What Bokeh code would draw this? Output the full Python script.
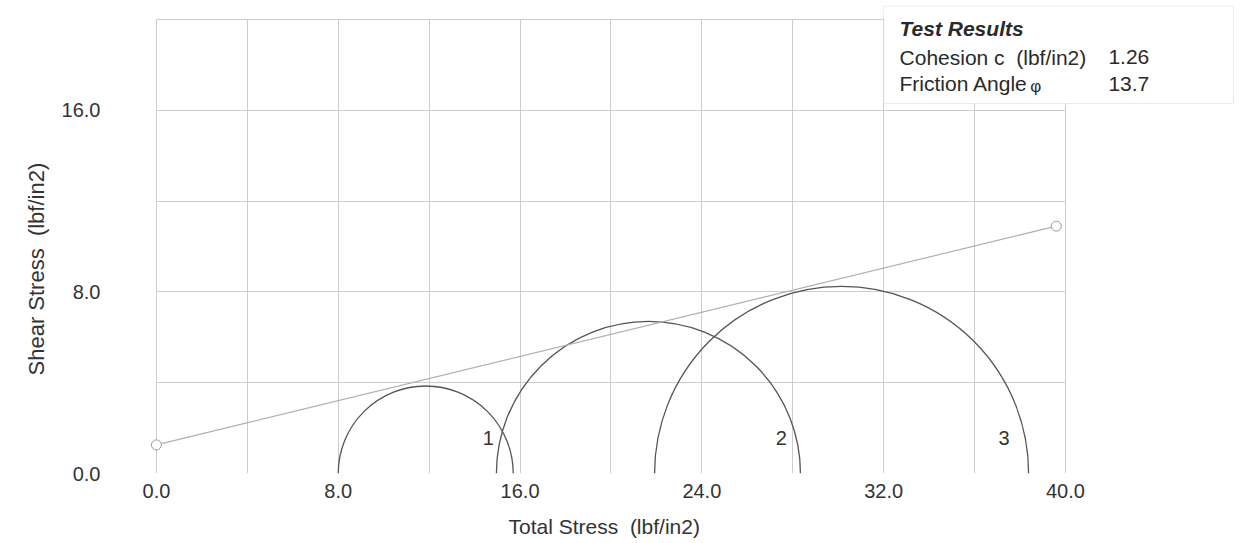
import numpy as np
from bokeh.plotting import figure
from bokeh.models import FixedTicker, BoxAnnotation, Label, Range1d, ColumnDataSource, Title
from bokeh.core.properties import value
from bokeh.embed import file_html
from bokeh.resources import INLINE

# ---- data ----
circle_ids = ["1", "2", "3"]
circle_center = [11.85, 21.65, 30.15]
circle_radius = [3.85, 6.69, 8.23]
circle_label_x = [14.6, 27.5, 37.3]
circle_label_y = [1.55, 1.55, 1.55]

cohesion = 1.26
friction_angle = 13.7
envelope_x = [0.0, 39.6]
envelope_y = [1.26, 10.9]

x_ticks = [0, 8, 16, 24, 32, 40]
x_minor = [4, 12, 20, 28, 36]
x_tick_labels = ["0.0", "8.0", "16.0", "24.0", "32.0", "40.0"]
y_ticks = [0, 8, 16]
y_minor = [4, 12, 20]
y_tick_labels = ["0.0", "8.0", "16.0"]

X_MAX, Y_MAX = 40, 20

FONT = "Liberation Sans"
GRID = "#cdcdcd"
TXT = "#333333"

# frame spans a bit more than the plot area so the results box can sit at top-right
p = figure(width=1244, height=543, x_range=Range1d(-0.35, 47.44), y_range=Range1d(0, 20.62),
           output_backend="svg", toolbar_location=None,
           min_border_left=148, min_border_right=10, min_border_top=5, min_border_bottom=70)
p.background_fill_color = "white"
p.border_fill_color = "white"
p.outline_line_color = None

xt = FixedTicker(ticks=x_ticks, minor_ticks=x_minor)
yt = FixedTicker(ticks=y_ticks, minor_ticks=y_minor)
p.xaxis.ticker = xt
p.yaxis.ticker = yt
p.xgrid.ticker = xt
p.ygrid.ticker = yt
p.xgrid.cross_bounds = (0, Y_MAX)
p.ygrid.cross_bounds = (0, X_MAX)
p.xaxis.major_label_overrides = {t: l for t, l in zip(x_ticks, x_tick_labels)}
p.yaxis.major_label_overrides = {t: l for t, l in zip(y_ticks, y_tick_labels)}
for g in (p.xgrid, p.ygrid):
    g.grid_line_color = GRID
    g.minor_grid_line_color = GRID
    g.grid_line_width = 1
    g.minor_grid_line_width = 1

for ax in (p.xaxis, p.yaxis):
    ax.axis_line_color = None
    ax.major_tick_line_color = None
    ax.minor_tick_line_color = None
    ax.major_tick_out = 0
    ax.major_tick_in = 0
    ax.minor_tick_out = 0
    ax.minor_tick_in = 0
    ax.major_label_text_font = FONT
    ax.major_label_text_font_size = "20px"
    ax.major_label_text_color = TXT

p.xaxis.major_label_standoff = 10
p.yaxis.major_label_standoff = 48

# axis titles placed like the reference (offset from the frame corner)
p.add_layout(Title(text="Total Stress \u00a0(lbf/in2)", align="left", offset=360, standoff=0,
                   padding=dict(left=0, right=0, top=12, bottom=0),
                   text_font=FONT, text_font_size="21px", text_font_style="normal",
                   text_color=TXT), "below")
p.add_layout(Title(text="Shear Stress \u00a0(lbf/in2)", align="left", offset=98, standoff=20,
                   text_font=FONT, text_font_size="22px", text_font_style="normal",
                   text_color=TXT), "left")

# Mohr circles (upper halves)
src = ColumnDataSource(dict(x=circle_center, y=[0] * 3, r=circle_radius))
p.arc(x="x", y="y", radius="r", start_angle=0, end_angle=np.pi, source=src,
      line_color="#555555", line_width=1.3)

# failure envelope
p.line(envelope_x, envelope_y, line_color="#b0b0b0", line_width=1.2)
p.scatter(envelope_x, envelope_y, marker="circle", size=10, fill_color="white",
          line_color="#9a9a9a", line_width=1)

# circle labels
p.text(x=circle_label_x, y=circle_label_y, text=circle_ids, text_align="center",
       text_baseline="middle", text_font=value(FONT), text_font_size="20px", text_color=TXT)

# results box
p.add_layout(BoxAnnotation(left=32.0, right=47.4, top=20.6, bottom=16.3,
                           fill_color="white", fill_alpha=1.0,
                           line_color="#bdbdbd", line_width=1))
lab = dict(text_font=FONT, text_font_size="21px", text_color="#2a2a2a",
           text_baseline="alphabetic")
p.add_layout(Label(x=32.7, y=19.6, text="Test Results", text_font_style="bold italic", **lab))
p.add_layout(Label(x=32.7, y=18.33, text="Cohesion c \u00a0(lbf/in2)", **lab))
p.add_layout(Label(x=32.7, y=17.18, text="Friction Angle", **lab))
p.add_layout(Label(x=38.45, y=17.05, text="\u03c6", text_font=FONT,
                   text_font_size="17px", text_color="#2a2a2a", text_baseline="alphabetic"))
p.add_layout(Label(x=41.89, y=18.33, text=f"{cohesion:.2f}", **lab))
p.add_layout(Label(x=41.89, y=17.18, text=f"{friction_angle:.1f}", **lab))

open("out.html", "w").write(file_html(p, INLINE))
